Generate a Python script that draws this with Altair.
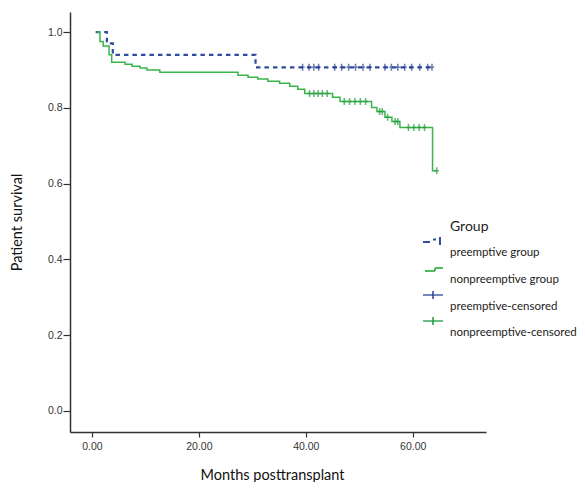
import altair as alt
import pandas as pd

# ---- data ----
pre_time = [0.7, 2.8, 3.9, 30.6, 63.6]
pre_surv = [1.0, 0.97, 0.94, 0.907, 0.907]

non_time = [0.9, 1.5, 2.1, 3.2, 3.7, 6.2, 7.5, 9.0, 10.3, 12.7, 27.3, 29.2, 31.0,
            32.9, 35.1, 37.0, 38.5, 39.8, 45.0, 46.4, 52.3, 53.3, 54.8, 56.1,
            57.6, 63.7, 64.5]
non_surv = [1.0, 0.975, 0.963, 0.94, 0.92, 0.915, 0.91, 0.905, 0.9, 0.894, 0.886,
            0.881, 0.876, 0.870, 0.865, 0.857, 0.849, 0.838, 0.828, 0.817, 0.801,
            0.79, 0.775, 0.764, 0.748, 0.634, 0.634]

pre_cens_time = [39.4, 40.6, 41.5, 42.4, 45.4, 46.7, 48.0, 49.3, 50.7, 52.0,
                 54.8, 56.0, 57.2, 58.5, 59.8, 61.3, 62.8, 63.6]
pre_cens_surv = [0.907] * 18

non_cens_time = [40.7, 41.5, 42.3, 43.1, 44.0, 47.2, 48.2, 49.2, 50.2, 51.2,
                 53.8, 54.3, 55.3, 56.7, 57.2, 59.2, 60.2, 61.2, 62.2, 64.5]
non_cens_surv = [0.838, 0.838, 0.838, 0.838, 0.838, 0.817, 0.817, 0.817, 0.817,
                 0.817, 0.79, 0.79, 0.775, 0.764, 0.764, 0.748, 0.748, 0.748,
                 0.748, 0.634]

x_ticks = [0, 20, 40, 60]
y_ticks = [0.0, 0.2, 0.4, 0.6, 0.8, 1.0]

legend_title = "Group"
legend_labels = ["preemptive group", "nonpreemptive group",
                 "preemptive-censored", "nonpreemptive-censored"]

BLUE = "#2d4d9e"
BLUE_C = "#2a3f95"
GREEN = "#3ab54a"
GREEN_C = "#1f9a3a"

pre_df = pd.DataFrame({"t": pre_time, "s": pre_surv})
non_df = pd.DataFrame({"t": non_time, "s": non_surv})
pre_c = pd.DataFrame({"t": pre_cens_time, "s": pre_cens_surv})
non_c = pd.DataFrame({"t": non_cens_time, "s": non_cens_surv})

xscale = alt.Scale(domain=[-4.1, 73.7], nice=False, zero=False)
yscale = alt.Scale(domain=[-0.056, 1.053], nice=False, zero=False)

xaxis = alt.Axis(values=x_ticks, format=".2f", grid=False, tickSize=5,
                 labelFont="Liberation Sans", labelFontSize=10.5, labelColor="#333",
                 domainColor="#333", domainWidth=1.5, tickColor="#333", tickWidth=1.2,
                 labelPadding=4, title="Months posttransplant", titleFont="Lato",
                 titleFontSize=14.5, titleFontWeight="normal", titleColor="#111",
                 titleX=202, titleY=43, titleBaseline="middle")
yaxis = alt.Axis(values=y_ticks, format=".1f", grid=False, tickSize=7,
                 labelFont="Liberation Sans", labelFontSize=10.5, labelColor="#333",
                 domainColor="#333", domainWidth=1.5, tickColor="#333", tickWidth=1.2,
                 labelPadding=1, title="Patient survival", titleFont="Lato",
                 titleFontSize=14.5, titleFontWeight="normal", titleColor="#111",
                 titleX=-53, titleY=210, titleAngle=-90, titleBaseline="middle",
                 titleAlign="center")

X = alt.X("t:Q", scale=xscale, axis=xaxis)
Y = alt.Y("s:Q", scale=yscale, axis=yaxis)
Xn = alt.X("t:Q", scale=xscale)
Yn = alt.Y("s:Q", scale=yscale)

pre_line = alt.Chart(pre_df).mark_line(interpolate="step-after", color=BLUE,
                                       strokeWidth=2.2, strokeDash=[4.5, 4]).encode(x=X, y=Y)
non_line = alt.Chart(non_df).mark_line(interpolate="step-after", color=GREEN,
                                       strokeWidth=1.5).encode(x=Xn, y=Yn)

cross = "M0,-1L0,1M-0.6,0L0.6,0"
pre_pts = alt.Chart(pre_c).mark_point(shape=cross, size=49, filled=False,
                                      color=BLUE_C, strokeWidth=1.5).encode(x=Xn, y=Yn)
non_pts = alt.Chart(non_c).mark_point(shape=cross, size=49, filled=False,
                                      color=GREEN_C, strokeWidth=1.5).encode(x=Xn, y=Yn)

# ---- manual legend (pixel positions relative to plot origin) ----
ox, oy = 70, 12
legend_layers = []
legend_layers.append(
    alt.Chart(pd.DataFrame({"a": [0]})).mark_text(
        text=legend_title, font="Lato", fontSize=14, align="left",
        baseline="middle", color="#222").encode(x=alt.value(450 - ox), y=alt.value(227 - oy)))
label_y = [253, 280, 307, 333]
for lab, ly in zip(legend_labels, label_y):
    legend_layers.append(
        alt.Chart(pd.DataFrame({"a": [0]})).mark_text(
            text=lab, font="Lato", fontSize=11.5, align="left",
            baseline="middle", color="#222").encode(x=alt.value(450 - ox), y=alt.value(ly - oy)))

def rule(x1, x2, y1, y2, color, width, dash=None):
    kw = dict(color=color, strokeWidth=width)
    if dash:
        kw["strokeDash"] = dash
    return alt.Chart(pd.DataFrame({"a": [0]})).mark_rule(**kw).encode(
        x=alt.value(x1 - ox), x2=alt.value(x2 - ox),
        y=alt.value(y1 - oy), y2=alt.value(y2 - oy))

# preemptive group icon (dashed step)
legend_layers.append(rule(423, 430, 242, 242, BLUE, 2))
legend_layers.append(rule(433, 436, 239.5, 239.5, BLUE, 2))
legend_layers.append(rule(440, 440, 237, 245, BLUE, 2))
# nonpreemptive group icon (step)
legend_layers.append(rule(425, 435, 271, 271, GREEN, 1.8))
legend_layers.append(rule(435, 435, 268, 271, GREEN, 1.8))
legend_layers.append(rule(435, 443, 268, 268, GREEN, 1.8))
# censored icons
legend_layers.append(rule(423, 443, 295, 295, "#4a5fa8", 1.5))
legend_layers.append(rule(433, 433, 291, 299, BLUE_C, 1.5))
legend_layers.append(rule(423, 443, 321, 321, "#3aa860", 1.5))
legend_layers.append(rule(433, 433, 317, 325, GREEN_C, 1.5))

chart = alt.layer(pre_line, non_line, pre_pts, non_pts, *legend_layers).properties(
    width=416, height=420,
    autosize=alt.AutoSizeParams(type="none"),
    padding={"left": 62, "top": 4, "right": 91, "bottom": 50},
    background="white",
).configure_view(stroke=None)

chart.save("out.html", embed_options={"renderer": "svg", "actions": False})
